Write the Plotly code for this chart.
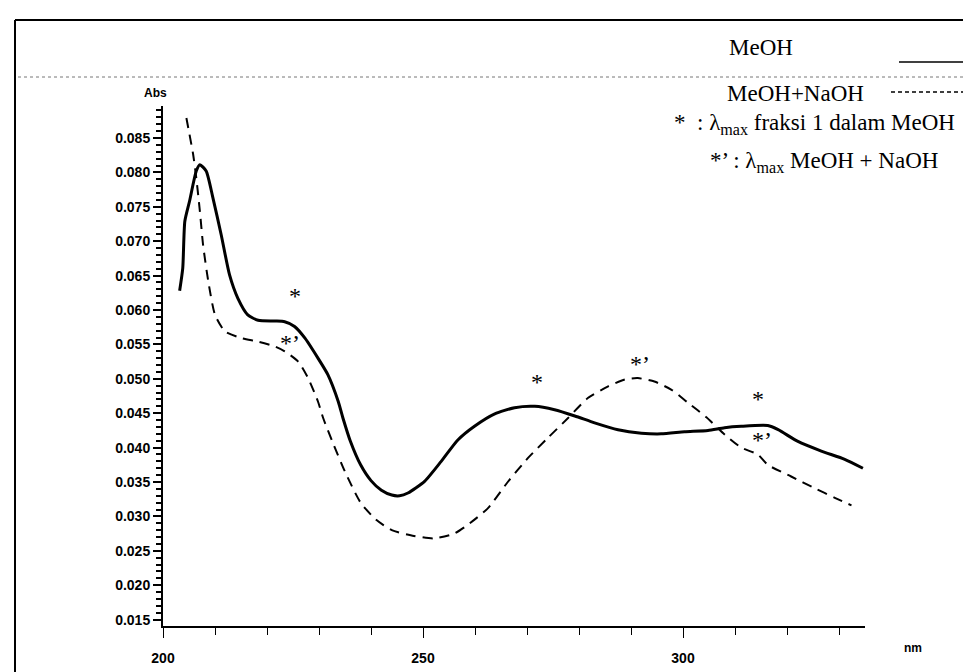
import plotly.graph_objects as go

# ---- data ----
meoh_nm = [203.2, 203.8, 204.2, 205.1, 206.4, 207.1, 208.3, 209.6, 211.2, 212.8, 214.4, 216.3,
           218.3, 221.5, 223.4, 225.3, 227.3, 229.8, 231.7, 233.7, 234.6, 236.0, 238.0, 240.0,
           242.0, 244.0, 245.5, 247.1, 250.3, 253.5, 256.7, 259.9, 263.8, 267.6, 271.5, 275.3,
           279.2, 283.0, 287.5, 292.0, 295.8, 300.3, 304.8, 308.0, 311.2, 316.3, 318.3, 322.1,
           326.6, 331.1, 334.6]
meoh_abs = [0.0628, 0.0661, 0.0729, 0.0758, 0.0802, 0.0811, 0.0802, 0.0763, 0.0709, 0.0651, 0.0617, 0.0593,
            0.0585, 0.0584, 0.0583, 0.0576, 0.0559, 0.0530, 0.0506, 0.0467, 0.0443, 0.0410, 0.0375, 0.0352,
            0.0338, 0.0331, 0.0330, 0.0334, 0.0351, 0.0380, 0.0411, 0.0431, 0.0449, 0.0458, 0.0460, 0.0455,
            0.0446, 0.0436, 0.0426, 0.0421, 0.0420, 0.0423, 0.0425, 0.0429, 0.0431, 0.0432, 0.0426, 0.0409,
            0.0395, 0.0383, 0.0370]

naoh_nm = [204.5, 205.1, 205.8, 206.4, 207.1, 207.7, 208.7, 210.0, 211.9, 215.1, 218.3, 221.5,
           223.4, 226.0, 227.9, 229.8, 230.8, 232.5, 235.0, 238.0, 241.0, 244.0, 248.0, 252.0,
           256.0, 259.0, 262.5, 266.3, 270.2, 274.0, 277.9, 281.7, 285.6, 288.8, 291.3, 294.5,
           297.8, 301.0, 304.5, 308.0, 311.2, 314.4, 316.3, 320.8, 325.3, 329.2, 332.4]
naoh_abs = [0.0879, 0.0855, 0.0826, 0.0792, 0.0743, 0.0695, 0.0642, 0.0593, 0.0569, 0.0559, 0.0554, 0.0547,
            0.0540, 0.0525, 0.0501, 0.0467, 0.0443, 0.0410, 0.0365, 0.0320, 0.0295, 0.0280, 0.0272, 0.0268,
            0.0275, 0.0290, 0.0312, 0.0350, 0.0385, 0.0414, 0.0443, 0.0472, 0.0489, 0.0499, 0.0501, 0.0496,
            0.0484, 0.0465, 0.0444, 0.0419, 0.0400, 0.0390, 0.0375, 0.0358, 0.0341, 0.0327, 0.0316]

star_nm = [225.4, 272.0, 314.4]
star_abs = [0.0620, 0.0495, 0.0470]
starp_nm = [224.4, 291.7, 315.2]
starp_abs = [0.0552, 0.0521, 0.0411]

y_tick_vals = [0.085, 0.080, 0.075, 0.070, 0.065, 0.060, 0.055, 0.050,
               0.045, 0.040, 0.035, 0.030, 0.025, 0.020, 0.015]
y_tick_text = ["0.085", "0.080", "0.075", "0.070", "0.065", "0.060", "0.055", "0.050",
               "0.045", "0.040", "0.035", "0.030", "0.025", "0.020", "0.015"]
x_tick_vals = [200, 250, 300]
x_tick_text = ["200", "250", "300"]

# ---- layout geometry (pixels) ----
W, H = 971, 672
L, R, T, B = 155, 114, 98, 54
PW, PH = W - L - R, H - T - B


def px(xp):
    return (xp - L) / PW


def py(yp):
    return 1 - (yp - T) / PH


serif = "Liberation Serif, Times New Roman, serif"
sans = "Liberation Sans, Arial, sans-serif"

fig = go.Figure()
fig.add_trace(go.Scatter(x=meoh_nm, y=meoh_abs, mode="lines", name="MeOH",
                         line=dict(color="black", width=3, shape="spline", smoothing=0.6)))
fig.add_trace(go.Scatter(x=naoh_nm, y=naoh_abs, mode="lines", name="MeOH+NaOH",
                         line=dict(color="black", width=2, dash="10px,7px", shape="spline", smoothing=0.6)))

ann = []
for xv, yv in zip(star_nm, star_abs):
    ann.append(dict(x=xv, y=yv, xref="x", yref="y", text="*", showarrow=False,
                    xanchor="center", yanchor="middle",
                    font=dict(family=serif, size=24, color="black")))
for xv, yv in zip(starp_nm, starp_abs):
    ann.append(dict(x=xv, y=yv, xref="x", yref="y", text="*’", showarrow=False,
                    xanchor="center", yanchor="middle",
                    font=dict(family=serif, size=24, color="black")))

legend_font = dict(family=serif, size=23, color="black")
ann += [
    dict(x=px(753), y=py(40), xref="paper", yref="paper", xanchor="center", yanchor="middle",
         text="MeOH", showarrow=False, font=legend_font),
    dict(x=px(787), y=py(85), xref="paper", yref="paper", xanchor="center", yanchor="middle",
         text="MeOH+NaOH", showarrow=False, font=legend_font),
    dict(x=px(664), y=py(116), xref="paper", yref="paper", xanchor="left", yanchor="middle",
         text="*  : λ<sub>max</sub> fraksi 1 dalam MeOH", showarrow=False, font=legend_font),
    dict(x=px(700), y=py(154), xref="paper", yref="paper", xanchor="left", yanchor="middle",
         text="*’ : λ<sub>max</sub> MeOH + NaOH", showarrow=False, font=legend_font),
    dict(x=px(147), y=py(85), xref="paper", yref="paper", xanchor="center", yanchor="middle",
         text="<b>Abs</b>", showarrow=False, font=dict(family=sans, size=12, color="black")),
    dict(x=px(905), y=py(640), xref="paper", yref="paper", xanchor="center", yanchor="middle",
         text="<b>nm</b>", showarrow=False, font=dict(family=sans, size=12, color="black")),
]

shapes = [
    # scanned page frame
    dict(type="line", xref="paper", yref="paper", x0=px(7), x1=px(971), y0=py(12), y1=py(12),
         line=dict(color="black", width=2)),
    dict(type="line", xref="paper", yref="paper", x0=px(7), x1=px(7), y0=py(12), y1=py(672),
         line=dict(color="black", width=2)),
    dict(type="line", xref="paper", yref="paper", x0=px(10), x1=px(971), y0=py(69), y1=py(69),
         line=dict(color="#777", width=1, dash="dot")),
    # legend samples
    dict(type="line", xref="paper", yref="paper", x0=px(891), x1=px(963), y0=py(54), y1=py(54),
         line=dict(color="black", width=1.5)),
    dict(type="line", xref="paper", yref="paper", x0=px(883), x1=px(965), y0=py(84), y1=py(84),
         line=dict(color="black", width=1.5, dash="4px,3px")),
]

fig.update_layout(
    width=W, height=H,
    margin=dict(l=L, r=R, t=T, b=B),
    paper_bgcolor="white", plot_bgcolor="white",
    showlegend=False,
    annotations=ann, shapes=shapes,
    xaxis=dict(range=[200, 335], showgrid=False, zeroline=False,
               showline=True, linecolor="black", linewidth=1.5,
               tickmode="array", tickvals=x_tick_vals, ticktext=x_tick_text,
               ticks="outside", ticklen=10, tickcolor="black", tickwidth=1,
               minor=dict(dtick=10, tick0=200, ticks="outside", ticklen=7, tickcolor="black", tickwidth=1),
               tickfont=dict(family=sans, size=14, color="black", weight="bold"), ticklabelstandoff=8),
    yaxis=dict(range=[0.01407, 0.08965], showgrid=False, zeroline=False,
               showline=True, linecolor="black", linewidth=2,
               tickmode="array", tickvals=y_tick_vals, ticktext=y_tick_text,
               ticks="outside", ticklen=8, tickcolor="black", tickwidth=1.5,
               minor=dict(dtick=0.001, tick0=0.015, ticks="outside", ticklen=5, tickcolor="black", tickwidth=1.5),
               tickfont=dict(family=sans, size=14, color="black", weight="bold")),
)

fig.write_html("out.html")
